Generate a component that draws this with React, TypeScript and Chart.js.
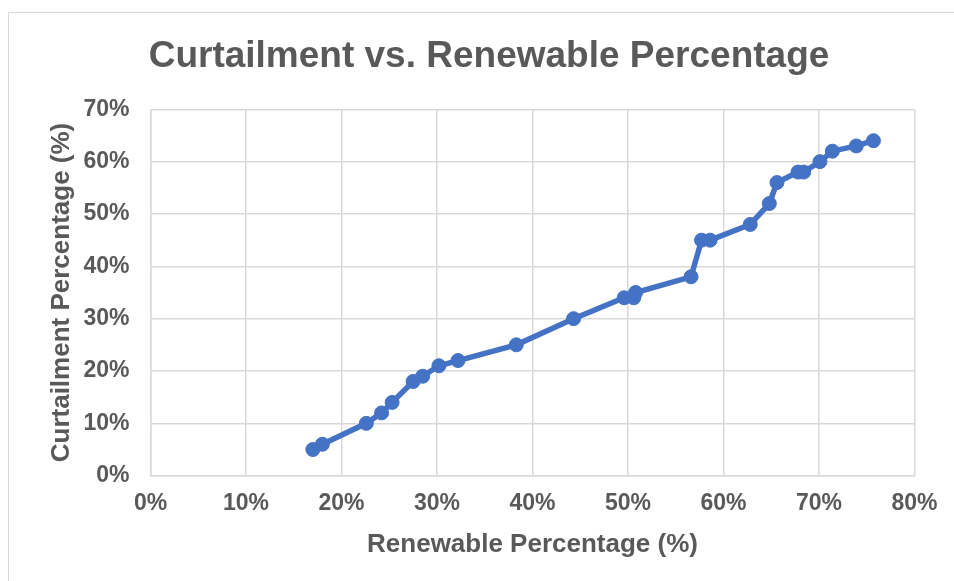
import { useEffect, useRef } from "react";
import { Chart, registerables } from "chart.js";

Chart.register(...registerables);

// Renewable share (x) and resulting curtailment (y), both in percent
const renewablePct = [
  17, 18, 22.6, 24.2, 25.3, 27.5, 28.5, 30.2, 32.2, 38.3, 44.3, 49.6, 50.6,
  50.8, 56.6, 57.7, 58.6, 62.8, 64.8, 65.6, 67.8, 68.4, 70.1, 71.4, 73.9, 75.7,
];
const curtailmentPct = [
  5, 6, 10, 12, 14, 18, 19, 21, 22, 25, 30, 34, 34, 35, 38, 45, 45, 48, 52, 56,
  58, 58, 60, 62, 63, 64,
];

// Axis tick values (percent)
const xTickValues = [0, 10, 20, 30, 40, 50, 60, 70, 80];
const yTickValues = [0, 10, 20, 30, 40, 50, 60, 70];

const CHART_TITLE = "Curtailment vs. Renewable Percentage";
const X_TITLE = "Renewable Percentage (%)";
const Y_TITLE = "Curtailment Percentage (%)";

const FONT = "'Liberation Sans', Arial, Helvetica, sans-serif";
const TEXT = "#595959";
const GRID = "#d9d9d9";
const SERIES = "#4472C4";

export default function App() {
  const canvasRef = useRef<HTMLCanvasElement | null>(null);

  useEffect(() => {
    const canvas = canvasRef.current;
    if (!canvas) return;

    const points = renewablePct.map((x, i) => ({ x, y: curtailmentPct[i] }));

    const chart = new Chart(canvas, {
      type: "scatter",
      data: {
        datasets: [
          {
            data: points,
            showLine: true,
            borderColor: SERIES,
            backgroundColor: SERIES,
            borderWidth: 5.5,
            pointRadius: 7,
            pointBorderWidth: 1,
            pointBorderColor: SERIES,
            pointBackgroundColor: SERIES,
            tension: 0,
          },
        ],
      },
      options: {
        responsive: false,
        animation: false,
        devicePixelRatio: 1,
        layout: { padding: { left: 44, right: 6, top: 0, bottom: 0 } },
        plugins: {
          legend: { display: false },
          tooltip: { enabled: false },
          title: {
            display: true,
            text: CHART_TITLE,
            color: TEXT,
            font: { family: FONT, size: 37, weight: "bold" },
            padding: { top: 34.3, bottom: 30.6 },
          },
        },
        scales: {
          x: {
            type: "linear",
            min: xTickValues[0],
            max: xTickValues[xTickValues.length - 1],
            afterBuildTicks: (scale: any) => {
              scale.ticks = xTickValues.map((value) => ({ value }));
            },
            ticks: {
              color: TEXT,
              font: { family: FONT, size: 23, weight: "bold" },
              padding: 14,
              callback: (v: any) => `${v}%`,
            },
            grid: { color: GRID, lineWidth: 1.5, drawTicks: false },
            border: { color: GRID, width: 1.5 },
            title: {
              display: true,
              text: X_TITLE,
              color: TEXT,
              font: { family: FONT, size: 26, weight: "bold" },
              padding: { top: 0, bottom: 21 },
            },
            afterFit: (scale: any) => {
              scale.height = 105.3;
              scale.paddingLeft = 0;
              scale.paddingRight = 25.5;
            },
          },
          y: {
            type: "linear",
            min: yTickValues[0],
            max: yTickValues[yTickValues.length - 1],
            afterBuildTicks: (scale: any) => {
              scale.ticks = yTickValues.map((value) => ({ value }));
            },
            ticks: {
              color: TEXT,
              font: { family: FONT, size: 23, weight: "bold" },
              padding: 21,
              callback: (v: any) => `${v}%`,
            },
            grid: { color: GRID, lineWidth: 1.5, drawTicks: false },
            border: { color: GRID, width: 1.5 },
            title: {
              display: true,
              text: Y_TITLE,
              color: TEXT,
              font: { family: FONT, size: 26, weight: "bold" },
              padding: { top: 2, bottom: 0 },
            },
            afterFit: (scale: any) => {
              scale.width = 106.5;
              scale.paddingTop = 0;
              scale.paddingBottom = 0;
            },
          },
        },
      },
    });

    return () => chart.destroy();
  }, []);

  return (
    <>
      <div
        style={{
          position: "absolute",
          left: 8,
          top: 12,
          width: 946,
          height: 569,
          boxSizing: "border-box",
          borderLeft: `1px solid ${GRID}`,
          borderTop: `1px solid ${GRID}`,
          background: "#ffffff",
        }}
      />
      <canvas
        ref={canvasRef}
        width={940}
        height={581}
        style={{ position: "absolute", left: 0, top: 0, width: 940, height: 581 }}
      />
    </>
  );
}
